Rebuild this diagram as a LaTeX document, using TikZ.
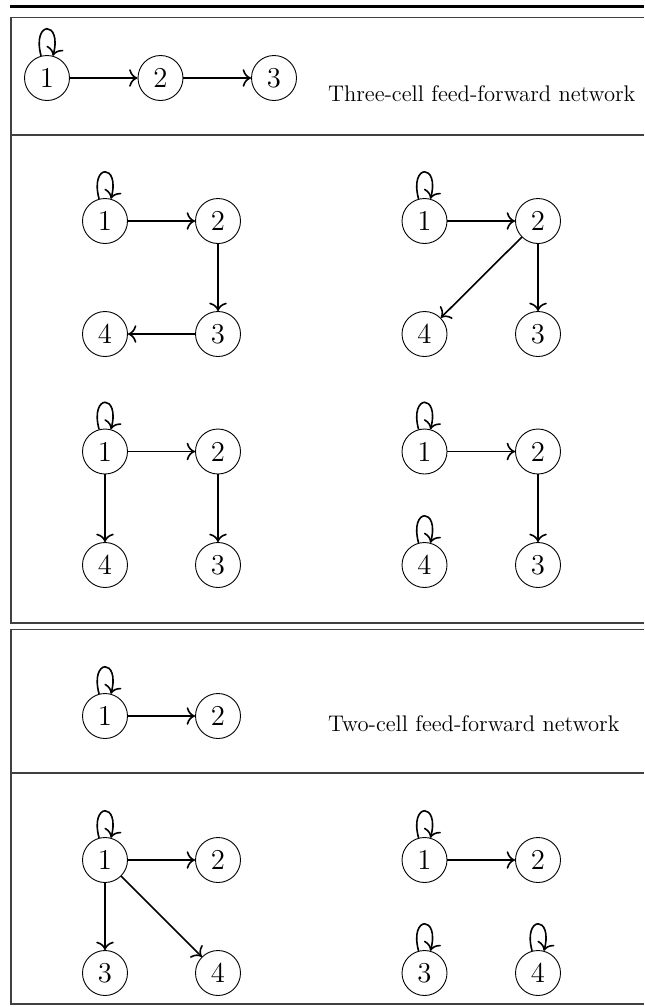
\documentclass[tikz,border=0pt]{standalone}
\usepackage{tikz}
\usetikzlibrary{positioning, arrows.meta}
\tikzset{
    cell/.style={
        circle, draw, line width=0.45pt,
        minimum size=22.5pt, inner sep=0pt, font=\Large
    },
    arrow/.style={
        -{To[scale=1.25]}, thick
    },
    selfloop/.style={
        -{To[scale=1.25]}, thick, loop above
    },
    frame/.style={
        draw=black!75, line width=0.6pt
    },
    caption/.style={
        anchor=base west, font=\fontsize{11.3}{13}\selectfont
    }
}

\begin{document}
\begin{tikzpicture}[x=0.5pt, y=-0.5pt]
    \useasboundingbox (0,0) rectangle (644,1007);

    % table rules
    \draw[line width=1.65pt] (10,6.7) -- (644,6.7);
    \draw[frame] (644,17.5) -- (11,17.5) -- (11,623) -- (644,623);
    \draw[frame] (11,135) -- (644,135);
    \draw[frame] (644,629.5) -- (11,629.5) -- (11,1004) -- (644,1004);
    \draw[frame] (11,773) -- (644,773);

    % three-cell feed-forward network
    \node[cell] (t1) at (47,78) {1};
    \node[cell] (t2) at (160.5,78) {2};
    \node[cell] (t3) at (274,78) {3};
    \node[caption] (tlabel) at (321,101.5) {Three-cell feed-forward network};
    \draw[selfloop] (t1) to (t1);
    \draw[arrow] (t1) -- (t2);
    \draw[arrow] (t2) -- (t3);

    % four-cell networks
    \node[cell] (a1) at (105,221) {1};
    \node[cell] (a2) at (218,221) {2};
    \node[cell] (a3) at (218,334) {3};
    \node[cell] (a4) at (105,334) {4};
    \draw[selfloop] (a1) to (a1);
    \draw[arrow] (a1) -- (a2);
    \draw[arrow] (a2) -- (a3);
    \draw[arrow] (a3) -- (a4);

    \node[cell] (b1) at (424.5,221) {1};
    \node[cell] (b2) at (538,221) {2};
    \node[cell] (b3) at (538,334) {3};
    \node[cell] (b4) at (424.5,334) {4};
    \draw[selfloop] (b1) to (b1);
    \draw[arrow] (b1) -- (b2);
    \draw[arrow] (b2) -- (b3);
    \draw[arrow] (b2) -- (b4);

    \node[cell] (c1) at (105,451.5) {1};
    \node[cell] (c2) at (218,451.5) {2};
    \node[cell] (c3) at (218,565) {3};
    \node[cell] (c4) at (105,565) {4};
    \draw[selfloop] (c1) to (c1);
    \draw[arrow] (c1) -- (c2);
    \draw[arrow] (c1) -- (c4);
    \draw[arrow] (c2) -- (c3);

    \node[cell] (d1) at (424.5,451.5) {1};
    \node[cell] (d2) at (538,451.5) {2};
    \node[cell] (d3) at (538,565) {3};
    \node[cell] (d4) at (424.5,565) {4};
    \draw[selfloop] (d1) to (d1);
    \draw[selfloop] (d4) to (d4);
    \draw[arrow] (d1) -- (d2);
    \draw[arrow] (d2) -- (d3);

    % two-cell feed-forward network
    \node[cell] (u1) at (105,716) {1};
    \node[cell] (u2) at (218,716) {2};
    \node[caption] (ulabel) at (321,731) {Two-cell feed-forward network};
    \draw[selfloop] (u1) to (u1);
    \draw[arrow] (u1) -- (u2);

    \node[cell] (e1) at (105,860) {1};
    \node[cell] (e2) at (218,860) {2};
    \node[cell] (e3) at (105,973) {3};
    \node[cell] (e4) at (218,973) {4};
    \draw[selfloop] (e1) to (e1);
    \draw[arrow] (e1) -- (e2);
    \draw[arrow] (e1) -- (e3);
    \draw[arrow] (e1) -- (e4);

    \node[cell] (f1) at (424.5,860) {1};
    \node[cell] (f2) at (538,860) {2};
    \node[cell] (f3) at (424.5,973) {3};
    \node[cell] (f4) at (538,973) {4};
    \draw[selfloop] (f1) to (f1);
    \draw[selfloop] (f3) to (f3);
    \draw[selfloop] (f4) to (f4);
    \draw[arrow] (f1) -- (f2);

\end{tikzpicture}
\end{document}
